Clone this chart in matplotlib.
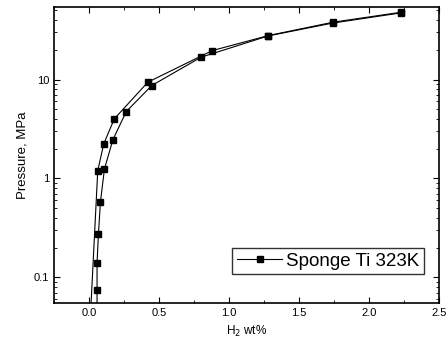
import matplotlib
matplotlib.use("Agg")
import matplotlib.pyplot as plt
from matplotlib.ticker import MultipleLocator, LogLocator, FixedLocator

plt.rcParams['font.family'] = ['Liberation Sans', 'DejaVu Sans']

# absorption / desorption branches, wt% vs MPa
x_abs = [0.005, 0.062, 0.105, 0.18, 0.42, 0.88, 1.28, 1.74, 2.23]
p_abs = [0.03, 1.2, 2.24, 4.0, 9.4, 19.6, 27.8, 37.9, 47.9]
x_des = [0.057, 0.057, 0.057, 0.067, 0.081, 0.11, 0.17, 0.266, 0.448, 0.80, 1.28, 1.74, 2.23]
p_des = [0.03, 0.074, 0.14, 0.276, 0.576, 1.25, 2.46, 4.75, 8.7, 16.8, 27.6, 37.2, 47.2]

fig = plt.figure(figsize=(4.47, 3.54), dpi=100)
ax = fig.add_axes([0.121, 0.144, 0.861, 0.836])

ax.plot(x_abs, p_abs, '-s', color='black', lw=0.8, ms=5, label='Sponge Ti 323K')
ax.plot(x_des, p_des, '-s', color='black', lw=0.8, ms=5)

ax.set_yscale('log')
ax.set_xlim(-0.25, 2.5)
ax.set_ylim(0.055, 54)
ax.xaxis.set_major_locator(MultipleLocator(0.5))
ax.xaxis.set_minor_locator(MultipleLocator(0.25))
ax.yaxis.set_major_locator(FixedLocator([0.1, 1, 10]))
ax.yaxis.set_minor_locator(LogLocator(base=10, subs=range(2, 10)))
ax.set_yticklabels(['0.1', '1', '10'])
ax.tick_params(which='both', direction='in', top=True, right=True, labelsize=8)
ax.tick_params(which='major', length=4)
ax.tick_params(which='minor', length=2)
for s in ax.spines.values():
    s.set_linewidth(1.2)

ax.set_xlabel('H$_2$ wt%', fontsize=8.5)
ax.set_ylabel('Pressure, MPa', fontsize=9.5)

ax.legend(loc='lower right', fontsize=13.5, frameon=True, fancybox=False,
          edgecolor='black', handlelength=2.4, handletextpad=0.2, borderpad=0.25,
          bbox_to_anchor=(0.985, 0.065))

fig.savefig('out.png', dpi=100)
